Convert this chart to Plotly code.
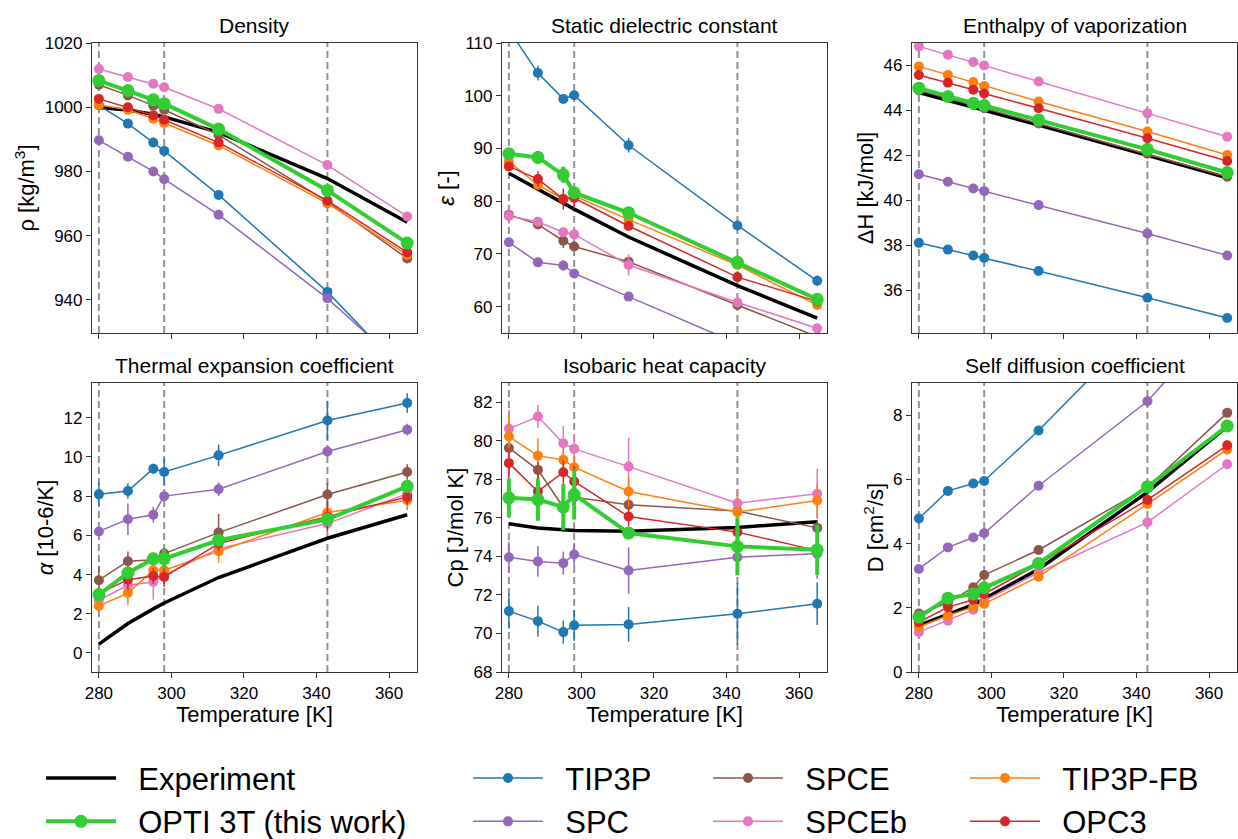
import plotly.graph_objects as go

temps = [280, 288, 295, 298, 313, 343, 365]
marked_temps = [280, 298, 343]

models = ["TIP3P", "SPC", "SPCE", "SPCEb", "TIP3P-FB", "OPC3"]
opti = "OPTI 3T (this work)"

colors = {"TIP3P": "#1f77b4", "SPC": "#9467bd", "SPCE": "#8c564b",
          "SPCEb": "#e377c2", "TIP3P-FB": "#ff7f0e", "OPC3": "#d62728",
          opti: "#32cd32", "Experiment": "black"}

# one legend per column (matplotlib-style ncol=4 legend)
legend_of = {"Experiment": "legend", opti: "legend",
             "TIP3P": "legend2", "SPC": "legend2",
             "SPCE": "legend3", "SPCEb": "legend3",
             "TIP3P-FB": "legend4", "OPC3": "legend4"}

# Density [kg/m3]
rho_exp = [999.9, 999.1, 997.8, 997.0, 992.2, 977.8, 964.2]
rho = {
    opti: [1008.3, 1005.2, 1002.3, 1001.1, 993.2, 974.1, 957.7],
    "TIP3P": [1000.6, 994.9, 989.0, 986.4, 972.7, 942.5, 916.5],
    "SPC": [989.7, 984.6, 980.0, 977.6, 966.5, 940.5, 918.0],
    "SPCE": [1007.0, 1003.7, 1000.5, 999.2, 991.4, 970.6, 952.9],
    "SPCEb": [1011.9, 1009.4, 1007.3, 1006.2, 999.5, 982.0, 966.0],
    "TIP3P-FB": [1000.8, 999.2, 996.4, 995.1, 988.1, 970.1, 954.0],
    "OPC3": [1002.6, 1000.0, 997.5, 996.1, 989.0, 970.9, 954.8],
}

# Static dielectric constant
eps_exp = [85.3, 82.3, 79.7, 78.5, 73.2, 64.0, 57.8]
eps = {
    opti: [89.0, 88.3, 85.0, 81.6, 77.8, 68.4, 61.4],
    "TIP3P": [112.5, 104.3, 99.4, 100.1, 90.6, 75.4, 64.9],
    "SPC": [72.2, 68.4, 67.8, 66.3, 61.9, 53.0, 47.5],
    "SPCE": [77.4, 75.6, 72.5, 71.4, 68.5, 60.3, 54.3],
    "SPCEb": [77.2, 76.1, 74.1, 73.7, 67.9, 60.8, 55.9],
    "TIP3P-FB": [87.5, 83.1, 80.4, 81.0, 76.5, 67.9, 60.3],
    "OPC3": [86.6, 84.2, 80.4, 80.6, 75.3, 65.6, 61.0],
}
eps_err = {
    opti: [0.8, 1.2, 1.5, 1.0, 0.6, 0.6, 0.8],
    "TIP3P": [1.5, 1.4, 0.7, 0.7, 1.4, 0.6, 1.0],
    "SPC": [0.6, 0.8, 1.0, 0.5, 0.5, 0.5, 0.5],
    "SPCE": [0.8, 0.5, 1.4, 0.5, 0.6, 0.5, 0.5],
    "SPCEb": [1.5, 0.6, 0.6, 0.5, 2.0, 0.6, 0.5],
    "TIP3P-FB": [0.5, 0.5, 0.5, 0.5, 0.5, 0.5, 0.5],
    "OPC3": [0.6, 1.5, 2.0, 2.0, 0.5, 0.6, 0.5],
}

# Enthalpy of vaporization [kJ/mol]
dh_exp = [44.80, 44.45, 44.15, 44.00, 43.35, 42.00, 41.00]
dh = {
    opti: [44.99, 44.62, 44.32, 44.22, 43.58, 42.27, 41.24],
    "TIP3P": [38.11, 37.81, 37.55, 37.44, 36.86, 35.67, 34.77],
    "SPC": [41.16, 40.83, 40.53, 40.41, 39.79, 38.53, 37.55],
    "SPCE": [44.90, 44.55, 44.25, 44.10, 43.42, 42.07, 41.05],
    "SPCEb": [46.85, 46.48, 46.15, 46.00, 45.29, 43.87, 42.83],
    "TIP3P-FB": [45.96, 45.58, 45.26, 45.09, 44.40, 43.06, 42.02],
    "OPC3": [45.58, 45.23, 44.92, 44.75, 44.10, 42.76, 41.75],
}

# Thermal expansion coefficient
alpha_exp = [0.45, 1.50, 2.25, 2.55, 3.85, 5.85, 7.05]
alpha = {
    opti: [2.98, 4.08, 4.81, 4.81, 5.75, 6.82, 8.50],
    "TIP3P": [8.09, 8.26, 9.40, 9.23, 10.08, 11.86, 12.75],
    "SPC": [6.20, 6.82, 7.05, 8.00, 8.35, 10.28, 11.39],
    "SPCE": [3.71, 4.68, 4.75, 5.07, 6.14, 8.08, 9.23],
    "SPCEb": [2.69, 3.45, 3.62, 3.96, 5.32, 6.60, 8.13],
    "TIP3P-FB": [2.40, 3.06, 4.22, 4.22, 5.19, 7.16, 7.79],
    "OPC3": [3.03, 3.74, 3.93, 3.88, 5.58, 6.94, 7.96],
}
alpha_err = {
    opti: [0.3, 0.3, 0.3, 0.5, 0.3, 0.3, 0.3],
    "TIP3P": [0.6, 0.4, 0.25, 0.7, 0.55, 1.0, 0.5],
    "SPC": [0.2, 0.8, 0.4, 0.2, 0.35, 0.2, 0.3],
    "SPCE": [0.7, 0.5, 0.3, 0.3, 0.95, 0.6, 0.4],
    "SPCEb": [0.3, 0.5, 0.9, 0.4, 0.4, 0.3, 0.4],
    "TIP3P-FB": [0.3, 0.6, 0.3, 0.4, 0.6, 0.3, 0.5],
    "OPC3": [0.3, 0.5, 0.4, 0.5, 0.4, 0.8, 0.4],
}

# Isobaric heat capacity [J/mol K]
cp_exp = [75.70, 75.48, 75.38, 75.34, 75.30, 75.50, 75.80]
cp = {
    opti: [77.04, 76.95, 76.56, 77.21, 75.21, 74.52, 74.34],
    "TIP3P": [71.16, 70.64, 70.07, 70.42, 70.47, 71.02, 71.54],
    "SPC": [73.96, 73.74, 73.65, 74.10, 73.27, 73.96, 74.14],
    "SPCE": [79.63, 78.49, 76.55, 77.07, 76.68, 76.35, 75.48],
    "SPCEb": [80.62, 81.26, 79.87, 79.58, 78.66, 76.76, 77.25],
    "TIP3P-FB": [80.22, 79.23, 79.01, 78.63, 77.37, 76.30, 76.90],
    "OPC3": [78.84, 77.37, 78.37, 77.89, 76.07, 75.26, 74.30],
}
cp_err = {
    opti: [1.0, 1.1, 1.2, 1.3, 0.3, 1.5, 1.3],
    "TIP3P": [0.9, 0.8, 0.6, 0.8, 0.9, 1.6, 1.1],
    "SPC": [0.8, 0.8, 0.6, 0.6, 1.2, 0.5, 1.3],
    "SPCE": [0.4, 0.5, 0.8, 0.5, 0.3, 0.3, 0.4],
    "SPCEb": [1.0, 0.6, 0.9, 0.7, 1.5, 0.7, 1.3],
    "TIP3P-FB": [1.1, 0.9, 0.6, 0.6, 0.8, 1.1, 0.9],
    "OPC3": [0.8, 1.5, 0.6, 0.8, 0.5, 0.5, 0.5],
}

# Self diffusion coefficient [cm2/s]
diff_exp = [1.45, 1.80, 2.10, 2.28, 3.20, 5.60, 7.65]
diff = {
    opti: [1.71, 2.30, 2.43, 2.62, 3.38, 5.77, 7.66],
    "TIP3P": [4.78, 5.64, 5.87, 5.95, 7.52, 10.9, 13.5],
    "SPC": [3.21, 3.88, 4.19, 4.32, 5.80, 8.43, 11.2],
    "SPCE": [1.82, 2.15, 2.64, 3.02, 3.80, 5.75, 8.07],
    "SPCEb": [1.24, 1.60, 1.94, 2.22, 3.10, 4.66, 6.47],
    "TIP3P-FB": [1.40, 1.76, 2.02, 2.12, 2.97, 5.23, 6.93],
    "OPC3": [1.55, 2.02, 2.25, 2.43, 3.36, 5.36, 7.06],
}

panels = [
    ("Density", "ρ [kg/m<sup>3</sup>]", rho_exp, rho, None, [929.7, 1020], [940, 960, 980, 1000, 1020]),
    ("Static dielectric constant", "<i>ε</i> [-]", eps_exp, eps, eps_err, [55, 110], [60, 70, 80, 90, 100, 110]),
    ("Enthalpy of vaporization", "ΔH [kJ/mol]", dh_exp, dh, None, [34.1, 47.0], [36, 38, 40, 42, 44, 46]),
    ("Thermal expansion coefficient", "<i>α</i> [10-6/K]", alpha_exp, alpha, alpha_err, [-0.97, 13.77], [0, 2, 4, 6, 8, 10, 12]),
    ("Isobaric heat capacity", "Cp [J/mol K]", cp_exp, cp, cp_err, [68, 83], [68, 70, 72, 74, 76, 78, 80, 82]),
    ("Self diffusion coefficient", "D [cm<sup>2</sup>/s]", diff_exp, diff, None, [0, 9], [0, 2, 4, 6, 8]),
]

# the paper is a little taller than the window so the big legend can sit
# right at the bottom edge (plotly keeps legends inside the paper)
W, H = 1238, 851
x_domains = [[92 / W, 417 / W], [502 / W, 827 / W], [912 / W, 1237 / W]]
y_domains = [[1 - 333 / H, 1 - 43 / H], [1 - 672 / H, 1 - 383 / H]]

FONT = "Liberation Sans, Arial, Helvetica, sans-serif"
NBSP = "\u00a0\u00a0"  # little extra gap between legend symbol and text

fig = go.Figure()
layout = {}
annotations = []
shapes = []

for k, (title, ylabel, exp_vals, sims, errs, yrange, yticks) in enumerate(panels):
    row, col = k // 3, k % 3
    xref = "x" if k == 0 else f"x{k+1}"
    yref = "y" if k == 0 else f"y{k+1}"
    xname = "xaxis" if k == 0 else f"xaxis{k+1}"
    yname = "yaxis" if k == 0 else f"yaxis{k+1}"

    # experiment underneath everything
    fig.add_trace(go.Scatter(
        x=temps, y=exp_vals, mode="lines", name=NBSP + "Experiment",
        line=dict(color="black", width=3.5),
        xaxis=xref, yaxis=yref, legendgroup="Experiment",
        legend=legend_of["Experiment"], showlegend=(k == 0)))

    for m in models + [opti]:
        is_opti = m == opti
        err = None
        if errs is not None:
            err = dict(type="data", array=errs[m], visible=True, width=0,
                       thickness=4 if is_opti else 1.5, color=colors[m])
        fig.add_trace(go.Scatter(
            x=temps, y=sims[m], mode="lines+markers", name=NBSP + m,
            line=dict(color=colors[m], width=4 if is_opti else 1.5),
            marker=dict(color=colors[m], size=13 if is_opti else 10),
            error_y=err, xaxis=xref, yaxis=yref, legendgroup=m,
            legend=legend_of[m], showlegend=(k == 0)))

    common = dict(showline=True, linecolor="#333", linewidth=1.2, mirror=True,
                  ticks="outside", ticklen=5, tickwidth=1.2, tickcolor="#333",
                  showgrid=False, zeroline=False, automargin=False,
                  tickfont=dict(size=17, family=FONT, color="black"))
    layout[xname] = dict(common, domain=x_domains[col], anchor=yref,
                         range=[278.1, 367.7], tickvals=[280, 300, 320, 340, 360],
                         showticklabels=(row == 1))
    if row == 1:
        layout[xname]["title"] = dict(text="Temperature [K]", standoff=5,
                                      font=dict(size=22, family=FONT, color="black"))
    layout[yname] = dict(common, domain=y_domains[row], anchor=xref,
                         range=yrange, tickvals=yticks,
                         title=dict(text=ylabel, standoff=3,
                                    font=dict(size=22, family=FONT, color="black")))

    annotations.append(dict(
        text=title, xref="paper", yref="paper",
        x=sum(x_domains[col]) / 2, y=y_domains[row][1],
        xanchor="center", yanchor="bottom", yshift=4, showarrow=False,
        font=dict(size=21, family=FONT, color="black")))

    for t in marked_temps:
        shapes.append(dict(type="line", xref=xref, yref=f"{yref} domain",
                           x0=t, x1=t, y0=0, y1=1, layer="below",
                           line=dict(color="rgba(128,128,128,0.85)", width=2,
                                     dash="7px,4px")))

legend_style = dict(orientation="v", xanchor="left", yanchor="top", y=1 - 751.4 / H,
                    font=dict(size=31, family=FONT, color="black"),
                    itemwidth=70, tracegroupgap=0, bgcolor="rgba(0,0,0,0)")
layout["legend"] = dict(legend_style, x=41 / W)
layout["legend2"] = dict(legend_style, x=468 / W)
layout["legend3"] = dict(legend_style, x=708 / W)
layout["legend4"] = dict(legend_style, x=965 / W)

fig.update_layout(
    width=W, height=H,
    margin=dict(l=0, r=0, t=0, b=0, autoexpand=False),
    paper_bgcolor="white", plot_bgcolor="white",
    font=dict(family=FONT, color="black"),
    annotations=annotations, shapes=shapes,
    **layout,
)

# drop the default page margin so the figure sits at the window origin
fig.write_html("out.html", config={"displayModeBar": False},
               post_script="document.body.style.margin = '0px';")
